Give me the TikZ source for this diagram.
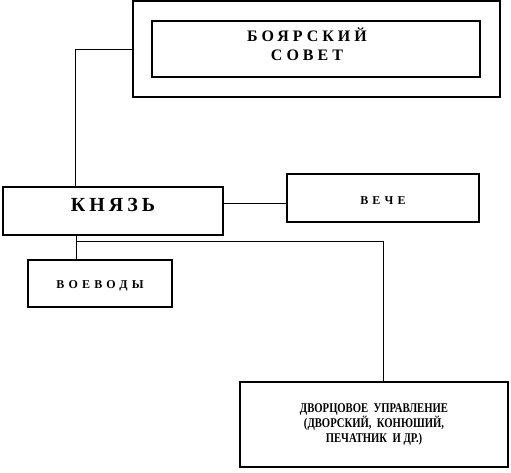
\documentclass[tikz,border=0pt]{standalone}
\usepackage{fontspec}
\setmainfont{Liberation Serif}
\newfontfamily\spaceda[LetterSpace=25]{Liberation Serif}
\newfontfamily\spacedb[LetterSpace=20]{Liberation Serif}
\newfontfamily\spacedc[LetterSpace=35]{Liberation Serif}
\newfontfamily\narrowf[FakeStretch=0.8]{Liberation Serif}
\usetikzlibrary{positioning,calc}
\tikzset{
  box/.style     = {draw=black, line width=0.9pt, rectangle, inner sep=0pt, align=center},
  link/.style    = {draw=black, line width=0.75pt},
  title/.style   = {font=\fontsize{12}{14.25}\selectfont\spaceda\bfseries, align=center, inner sep=0pt},
  chief/.style   = {font=\fontsize{15}{16}\selectfont\spacedb\bfseries},
  small/.style   = {font=\fontsize{9}{10}\selectfont\spacedc\bfseries},
  court/.style   = {font=\fontsize{10}{11.25}\selectfont\narrowf\bfseries},
}
\begin{document}
\begin{tikzpicture}[x=0.75pt, y=-0.75pt]
  \useasboundingbox (0,0) rectangle (511,472);

  % council
  \node[box, minimum width=275.25pt, minimum height=72pt] (boyar) at (316.5,49) {};
  \node[box, minimum width=246pt, minimum height=42pt] (boyarin) at (316,49) {};
  \node[title] (boyartxt) at ($(boyarin.center)+(-9,-5)$) {БОЯРСКИЙ\\СОВЕТ};

  % prince and assembly
  \node[box, chief, minimum width=165pt, minimum height=36pt, text depth=9pt] (knyaz) at (113,211) {КНЯЗЬ};
  \node[box, small, minimum width=144pt, minimum height=36pt, text height=10pt] (veche) at (383,198) {ВЕЧЕ};

  % subordinates
  \node[box, small, minimum width=108pt, minimum height=35.25pt, text height=10pt] (voev) at (100,283.5) {ВОЕВОДЫ};
  \node[box, court, minimum width=201pt, minimum height=63.75pt] (dvor) at (374,424.5)
    {ДВОРЦОВОЕ\ \ УПРАВЛЕНИЕ\\(ДВОРСКИЙ,\ \ КОНЮШИЙ,\\ПЕЧАТНИК\ \ И ДР.)};

  % connectors
  \coordinate (ktop) at ($(knyaz.north west)!0.33!(knyaz.north east)$);
  \coordinate (kbot) at ($(knyaz.south west)!0.336!(knyaz.south east)$);
  \draw[link] (ktop) |- (boyar.west);
  \draw[link] ([yshift=-3.75pt]veche.west) -- ([yshift=-3.75pt]veche.west -| knyaz.east);
  \draw[link] (kbot) -- (kbot |- voev.north);
  \coordinate (fork) at ($(kbot)+(0,6)$);
  \draw[link] (fork) -| ([xshift=6.75pt]dvor.north);
\end{tikzpicture}
\end{document}
